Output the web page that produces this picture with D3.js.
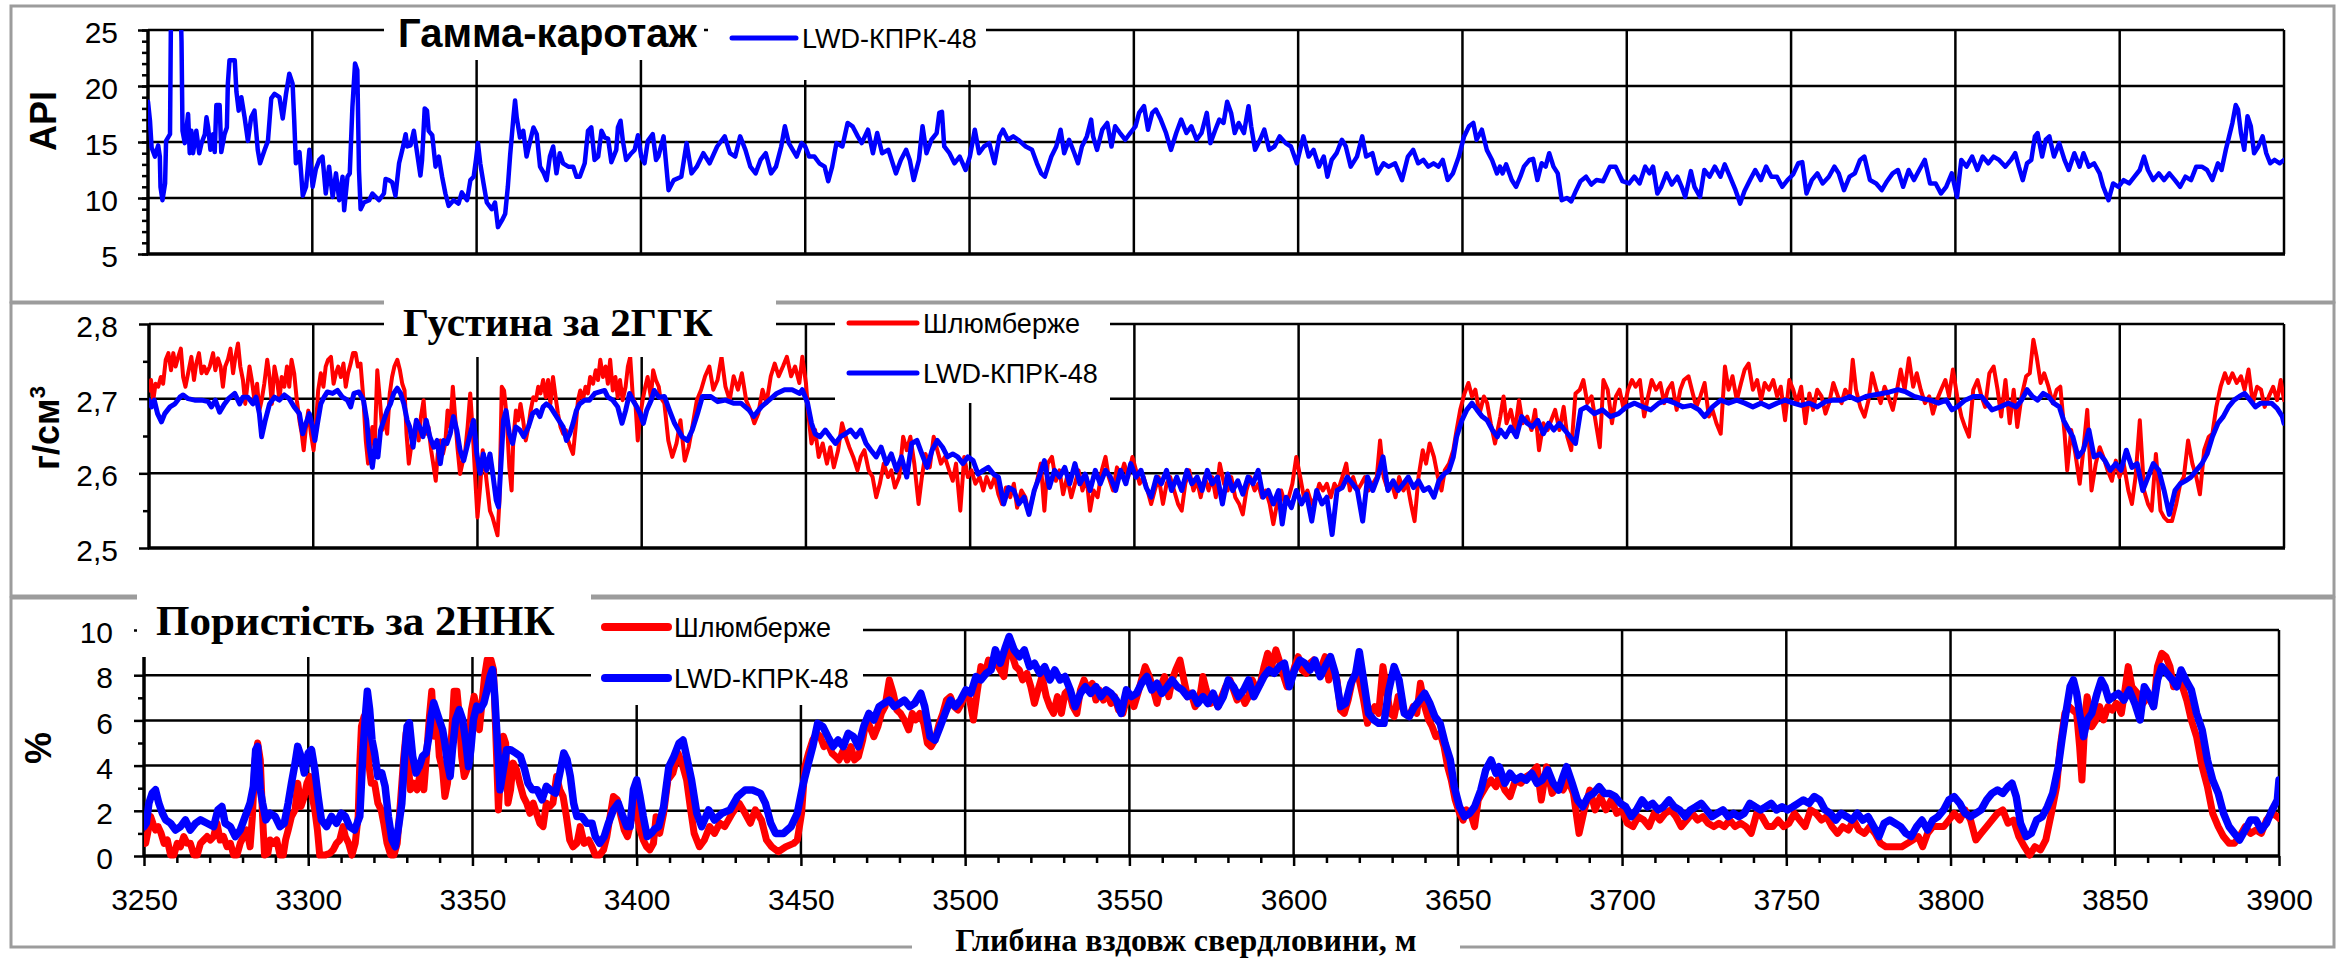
<!DOCTYPE html>
<html><head><meta charset="utf-8">
<script src="https://cdn.jsdelivr.net/npm/d3@7/dist/d3.min.js"></script>
<style>html,body{margin:0;padding:0;background:#fff}svg{display:block}</style>
</head><body>
<script>
// ---------------- DATA ----------------
const depthTicks = [3250,3300,3350,3400,3450,3500,3550,3600,3650,3700,3750,3800,3850,3900];
const gammaTicks = [5,10,15,20,25];
const densityTicks = [2.5,2.6,2.7,2.8];
const porosityTicks = [0,2,4,6,8,10];
const seriesNames = ["Шлюмберже","LWD-КПРК-48"];

// Gamma ray, API  [depth m, value]
const gammaApi = [[3250.0,18.6],[3250.6,16.9],[3251.1,14.5],[3252.1,13.7],[3253.1,14.7],[3253.6,13.7],[3253.8,11.0],[3254.4,9.8],[3255.2,11.3],[3255.5,15.1],[3256.7,15.7],[3257.0,27],[3257.3,32],[3259.5,32],[3259.7,30],[3260.2,24],[3260.5,16],[3261.2,14.9],[3262.2,17.5],[3262.7,14.0],[3263.2,16.0],[3263.7,14.0],[3264.7,16.0],[3265.6,14.0],[3266.3,14.9],[3267.3,15.7],[3267.8,17.2],[3268.3,16.3],[3269.0,14.3],[3269.8,15.7],[3270.3,14.1],[3270.8,18.3],[3271.8,18.3],[3272.3,14.1],[3273.3,15.7],[3274.0,16.3],[3274.3,20.2],[3274.8,22.3],[3276.4,22.3],[3276.9,19.5],[3277.6,17.8],[3278.4,19.0],[3279.4,17.2],[3280.4,15.1],[3281.4,17.2],[3282.4,17.8],[3283.4,14.3],[3284.1,13.1],[3285.5,14.3],[3286.5,15.1],[3287.5,18.9],[3288.5,19.3],[3290.0,19.0],[3291.0,17.1],[3292.0,19.3],[3293.0,21.1],[3294.0,20.2],[3294.5,16.9],[3295.0,13.1],[3296.1,14.1],[3296.6,12.2],[3297.1,10.2],[3298.1,11.0],[3299.1,14.3],[3300.1,11.0],[3301.1,12.6],[3302.1,13.4],[3303.1,13.7],[3304.1,10.4],[3305.1,12.8],[3306.2,10.1],[3307.2,12.2],[3308.2,9.8],[3309.2,11.9],[3309.7,8.9],[3310.7,11.9],[3311.4,12.2],[3312.2,18.1],[3313.0,22.0],[3313.7,21.4],[3314.2,12.5],[3314.7,9.0],[3315.7,9.6],[3317.3,9.8],[3318.3,10.4],[3320.3,9.8],[3321.8,10.4],[3322.3,11.7],[3323.3,11.6],[3324.3,11.4],[3325.3,10.2],[3326.4,13.1],[3327.4,14.3],[3328.4,15.7],[3328.9,14.6],[3329.9,14.7],[3330.9,16.0],[3331.9,14.0],[3332.9,12.0],[3333.4,13.4],[3334.2,18.0],[3334.9,17.8],[3335.4,16.0],[3336.5,15.6],[3337.5,12.8],[3338.5,13.7],[3339.5,11.9],[3340.5,10.4],[3341.5,9.3],[3343.0,9.8],[3344.5,9.5],[3345.5,10.5],[3347.1,9.8],[3348.1,11.6],[3349.1,11.9],[3349.8,13.4],[3350.4,14.9],[3351.1,13.1],[3352.1,11.3],[3353.1,9.6],[3354.6,9.0],[3355.6,9.6],[3356.5,7.4],[3357.7,8.0],[3358.7,8.6],[3359.5,11.0],[3360.2,13.8],[3361.2,17.2],[3361.7,18.7],[3362.2,17.2],[3363.2,15.4],[3364.2,16.0],[3365.2,13.7],[3366.3,15.1],[3367.3,16.3],[3368.3,15.7],[3369.3,12.8],[3370.3,12.3],[3371.3,11.6],[3372.3,13.7],[3373.3,14.6],[3374.3,12.2],[3375.3,14.0],[3376.3,13.1],[3377.9,12.8],[3379.4,12.8],[3380.4,11.9],[3381.4,11.9],[3382.9,13.1],[3383.9,16.0],[3384.9,16.3],[3385.9,13.4],[3387.0,13.7],[3388.0,16.0],[3389.0,15.4],[3390.0,15.3],[3391.0,13.2],[3392.5,14.3],[3393.0,16.3],[3393.8,16.9],[3394.5,15.1],[3395.5,13.4],[3397.1,14.0],[3398.1,14.3],[3399.1,15.6],[3400.1,13.7],[3401.1,13.1],[3402.1,15.1],[3403.6,15.7],[3404.6,13.4],[3405.3,13.7],[3406.9,15.5],[3408.4,10.7],[3410.0,11.6],[3412.3,11.9],[3413.9,14.9],[3415.4,12.2],[3417.0,12.8],[3419.0,14.0],[3420.9,13.1],[3423.2,14.6],[3425.5,15.5],[3427.1,14.0],[3428.7,13.7],[3430.2,15.5],[3431.8,14.3],[3433.3,12.8],[3434.9,12.2],[3436.4,13.4],[3438.0,14.0],[3439.6,12.2],[3441.1,12.8],[3442.7,14.6],[3443.8,16.4],[3445.0,14.9],[3447.4,13.7],[3448.9,14.9],[3450.0,14.6],[3451.2,13.7],[3452.8,13.7],[3454.3,13.1],[3455.9,12.8],[3457.0,11.5],[3458.2,12.8],[3459.5,14.9],[3461.3,14.6],[3462.9,16.7],[3464.4,16.4],[3466.0,15.5],[3467.2,14.9],[3469.1,16.1],[3470.6,14.0],[3471.9,15.8],[3473.4,14.0],[3475.3,14.3],[3477.6,12.2],[3479.1,13.4],[3480.7,14.3],[3481.8,13.4],[3483.0,11.6],[3484.6,13.4],[3485.7,16.4],[3486.9,14.0],[3488.4,15.2],[3490.0,15.8],[3490.8,17.6],[3491.6,17.7],[3492.3,14.6],[3493.9,14.0],[3495.4,13.1],[3497.0,13.7],[3498.8,12.5],[3500.1,13.7],[3501.6,16.1],[3502.9,14.0],[3504.4,14.6],[3506.0,14.9],[3507.6,13.1],[3509.1,15.5],[3510.2,16.1],[3511.7,15.2],[3513.3,15.5],[3514.8,15.2],[3517.1,14.6],[3519.0,14.3],[3520.5,13.1],[3521.8,12.2],[3522.9,11.9],[3524.9,13.7],[3526.4,14.6],[3527.7,16.1],[3528.8,14.0],[3530.3,15.2],[3531.9,14.0],[3533.0,13.1],[3534.2,14.6],[3535.7,15.5],[3537.0,17.0],[3537.6,15.5],[3538.8,14.3],[3540.4,16.1],[3541.9,16.7],[3543.2,14.6],[3544.3,16.4],[3545.8,15.8],[3547.4,15.2],[3548.9,15.8],[3550.5,16.4],[3551.6,17.6],[3553.1,18.2],[3554.3,16.1],[3555.6,17.6],[3556.7,17.9],[3558.2,17.0],[3559.8,15.8],[3561.3,14.3],[3562.9,15.8],[3564.4,17.0],[3566.0,15.8],[3567.5,16.4],[3569.1,15.2],[3570.6,15.8],[3572.2,17.6],[3573.3,14.9],[3574.8,16.1],[3576.0,17.0],[3577.3,16.7],[3578.4,18.6],[3579.6,17.6],[3580.7,15.8],[3581.9,16.7],[3583.5,15.8],[3584.9,18.2],[3585.7,16.4],[3586.9,14.3],[3588.4,15.2],[3589.7,16.1],[3591.2,14.3],[3592.8,14.6],[3594.4,15.5],[3596.2,14.9],[3597.8,14.6],[3599.6,13.1],[3601.6,15.5],[3603.2,13.7],[3604.7,14.3],[3606.3,12.8],[3607.8,13.7],[3608.9,11.9],[3610.2,13.4],[3611.7,14.0],[3613.3,15.2],[3614.5,14.6],[3616.0,12.8],[3617.9,13.7],[3619.5,15.5],[3620.7,13.7],[3622.6,14.0],[3624.1,12.2],[3626.0,13.1],[3627.5,12.8],[3629.5,13.1],[3631.6,11.6],[3633.4,13.7],[3635.0,14.3],[3636.5,13.1],[3638.1,13.4],[3639.6,12.8],[3641.2,13.1],[3642.7,12.8],[3644.0,13.4],[3645.5,11.6],[3647.1,12.2],[3648.9,13.7],[3650.5,15.5],[3652.0,16.4],[3653.3,16.7],[3654.3,15.2],[3655.9,16.1],[3657.4,14.3],[3659.0,13.4],[3660.5,12.2],[3661.4,12.8],[3662.2,12.2],[3663.3,13.0],[3665.0,11.6],[3666.3,11.0],[3667.6,11.9],[3668.7,12.8],[3670.4,13.4],[3671.5,13.5],[3672.8,11.6],[3674.1,13.1],[3675.3,12.8],[3676.4,14.0],[3677.7,12.8],[3679.0,12.2],[3680.2,9.8],[3681.8,10.0],[3683.1,9.7],[3684.6,10.7],[3685.9,11.5],[3687.6,11.9],[3689.2,11.2],[3690.8,11.6],[3692.8,11.5],[3694.9,12.8],[3696.6,12.8],[3698.7,11.5],[3700.7,11.3],[3702.3,11.9],[3703.9,11.3],[3705.6,12.8],[3706.9,12.2],[3708.0,12.8],[3709.3,10.4],[3710.5,11.0],[3712.1,12.2],[3713.7,11.2],[3715.4,11.9],[3716.7,11.0],[3717.8,10.1],[3719.5,12.4],[3720.6,11.0],[3722.3,10.1],[3723.6,12.5],[3725.2,11.9],[3726.8,12.8],[3728.5,11.9],[3729.8,13.0],[3731.4,11.9],[3733.1,10.7],[3734.5,9.5],[3735.8,10.6],[3737.5,11.6],[3739.1,12.5],[3740.8,11.6],[3742.4,12.8],[3744.0,11.9],[3745.7,11.9],[3747.3,11.0],[3748.9,11.6],[3750.6,12.1],[3752.2,13.1],[3753.4,13.2],[3754.7,10.4],[3756.3,11.6],[3758.0,12.2],[3759.6,11.3],[3761.5,11.9],[3763.2,12.8],[3764.5,12.2],[3766.1,10.7],[3767.8,11.9],[3769.4,12.2],[3771.0,13.4],[3772.3,13.7],[3774.0,11.6],[3775.9,11.3],[3777.6,10.7],[3779.2,11.5],[3780.9,12.2],[3782.5,12.5],[3784.1,11.0],[3785.8,12.5],[3787.4,11.6],[3789.0,12.5],[3790.7,13.4],[3792.3,11.3],[3794.0,11.3],[3795.6,10.4],[3797.2,11.0],[3798.9,12.2],[3800.5,10.1],[3801.8,13.4],[3803.4,12.8],[3805.1,13.7],[3806.7,12.5],[3808.3,13.7],[3810.0,13.1],[3811.6,13.7],[3813.3,13.4],[3815.2,12.8],[3816.9,13.4],[3818.2,14.0],[3819.3,12.8],[3820.5,11.6],[3821.8,13.1],[3823.1,13.4],[3824.2,15.5],[3825.0,15.8],[3826.4,13.7],[3827.5,15.2],[3828.6,15.5],[3830.0,13.7],[3831.6,14.9],[3833.2,13.4],[3834.5,12.5],[3836.2,14.0],[3837.8,12.8],[3839.0,14.0],[3840.6,12.8],[3842.2,13.1],[3843.9,12.2],[3845.0,11.0],[3846.6,9.8],[3848.0,11.3],[3849.6,11.0],[3851.2,11.6],[3852.9,11.3],[3854.5,11.9],[3856.1,12.5],[3857.4,13.7],[3858.6,12.5],[3860.2,11.6],[3861.9,12.2],[3863.5,11.6],[3865.1,12.2],[3866.8,11.6],[3868.4,11.0],[3870.0,11.9],[3871.7,11.6],[3873.3,12.8],[3875.0,12.8],[3876.6,12.5],[3878.2,11.6],[3879.9,13.1],[3881.0,12.5],[3882.3,14.3],[3883.3,15.5],[3884.3,16.7],[3885.3,18.3],[3886.0,17.9],[3886.9,15.8],[3887.9,14.3],[3888.9,17.3],[3889.9,16.4],[3890.9,14.0],[3892.2,14.6],[3893.5,15.5],[3894.6,14.0],[3895.8,13.1],[3897.1,13.4],[3898.7,13.1],[3900.0,13.4]];

// Density 2GGK, g/cm3 — Schlumberger
const densitySlb = [[3250.0,2.711],[3250.6,2.725],[3251.3,2.698],[3252.0,2.720],[3252.8,2.716],[3253.6,2.729],[3254.3,2.720],[3255.1,2.752],[3255.9,2.761],[3256.7,2.738],[3257.4,2.761],[3258.1,2.743],[3258.9,2.756],[3259.7,2.767],[3260.4,2.729],[3261.1,2.716],[3261.9,2.734],[3262.9,2.756],[3263.7,2.725],[3264.4,2.747],[3265.2,2.761],[3266.0,2.734],[3266.8,2.743],[3267.5,2.734],[3268.5,2.743],[3269.5,2.761],[3270.2,2.738],[3271.0,2.754],[3271.8,2.743],[3272.5,2.716],[3273.2,2.743],[3274.0,2.752],[3274.8,2.767],[3275.6,2.734],[3276.3,2.756],[3277.1,2.774],[3277.8,2.743],[3278.6,2.725],[3279.3,2.693],[3279.9,2.716],[3280.6,2.743],[3281.3,2.725],[3282.1,2.698],[3282.9,2.720],[3283.6,2.684],[3284.3,2.698],[3285.1,2.720],[3286.0,2.752],[3286.7,2.729],[3287.4,2.693],[3288.2,2.743],[3289.0,2.725],[3289.7,2.698],[3290.4,2.729],[3291.2,2.716],[3292.0,2.743],[3292.7,2.716],[3293.4,2.752],[3294.2,2.734],[3295.0,2.698],[3295.8,2.671],[3296.5,2.653],[3297.1,2.631],[3297.8,2.662],[3298.5,2.684],[3299.3,2.653],[3300.1,2.631],[3300.8,2.662],[3301.5,2.711],[3302.3,2.734],[3303.1,2.716],[3303.8,2.743],[3304.5,2.752],[3305.4,2.756],[3306.2,2.720],[3306.9,2.734],[3307.6,2.743],[3308.4,2.729],[3309.2,2.747],[3309.9,2.716],[3310.6,2.734],[3311.4,2.747],[3312.1,2.761],[3312.9,2.761],[3313.6,2.743],[3314.4,2.747],[3315.3,2.698],[3316.0,2.644],[3316.7,2.613],[3317.3,2.635],[3318.0,2.662],[3318.7,2.635],[3319.5,2.738],[3320.3,2.698],[3321.0,2.658],[3321.7,2.676],[3322.5,2.653],[3323.3,2.707],[3324.0,2.729],[3324.7,2.743],[3325.6,2.752],[3326.4,2.738],[3327.1,2.720],[3327.8,2.711],[3328.4,2.653],[3329.1,2.613],[3329.8,2.635],[3330.6,2.653],[3331.4,2.671],[3332.1,2.644],[3332.8,2.676],[3333.6,2.698],[3334.4,2.653],[3335.1,2.662],[3335.9,2.631],[3336.7,2.608],[3337.3,2.590],[3337.9,2.626],[3338.7,2.644],[3339.5,2.626],[3340.2,2.640],[3340.9,2.684],[3341.7,2.662],[3342.5,2.716],[3343.2,2.676],[3343.9,2.635],[3344.7,2.599],[3345.6,2.617],[3346.3,2.631],[3347.0,2.662],[3347.8,2.707],[3348.6,2.653],[3349.3,2.595],[3350.0,2.541],[3350.8,2.581],[3351.6,2.631],[3352.3,2.608],[3353.0,2.581],[3353.8,2.550],[3354.6,2.541],[3355.4,2.528],[3356.1,2.517],[3356.7,2.564],[3357.4,2.716],[3358.1,2.711],[3358.9,2.676],[3359.7,2.608],[3360.4,2.577],[3360.9,2.644],[3361.7,2.684],[3362.4,2.671],[3363.1,2.693],[3363.9,2.671],[3364.7,2.644],[3365.5,2.662],[3366.2,2.684],[3367.0,2.702],[3367.8,2.698],[3368.5,2.716],[3369.2,2.707],[3370.0,2.725],[3370.8,2.702],[3371.5,2.725],[3372.2,2.693],[3373.0,2.729],[3373.8,2.702],[3374.5,2.680],[3375.3,2.662],[3376.1,2.653],[3376.9,2.658],[3377.6,2.644],[3378.3,2.635],[3379.1,2.626],[3379.9,2.662],[3380.6,2.698],[3381.3,2.711],[3382.1,2.698],[3382.9,2.716],[3383.6,2.707],[3384.3,2.729],[3385.2,2.720],[3386.0,2.738],[3386.7,2.725],[3387.4,2.752],[3388.2,2.729],[3389.0,2.743],[3389.7,2.720],[3390.4,2.752],[3391.2,2.711],[3392.0,2.729],[3392.7,2.702],[3393.4,2.725],[3394.2,2.698],[3395.1,2.716],[3395.8,2.743],[3396.5,2.756],[3397.3,2.702],[3398.1,2.693],[3398.8,2.644],[3399.5,2.676],[3400.3,2.698],[3401.1,2.716],[3401.8,2.729],[3402.8,2.702],[3403.5,2.738],[3404.3,2.725],[3405.2,2.716],[3405.6,2.703],[3406.9,2.694],[3408.1,2.644],[3409.3,2.622],[3410.6,2.640],[3411.8,2.671],[3413.1,2.617],[3414.3,2.635],[3415.6,2.667],[3416.8,2.698],[3418.1,2.712],[3419.3,2.730],[3420.6,2.743],[3421.8,2.712],[3423.1,2.725],[3424.3,2.756],[3425.5,2.716],[3426.8,2.698],[3428.0,2.730],[3429.3,2.712],[3430.5,2.734],[3431.8,2.698],[3433.0,2.685],[3434.3,2.667],[3435.5,2.680],[3436.8,2.712],[3438.0,2.694],[3439.3,2.730],[3440.5,2.747],[3441.7,2.730],[3443.0,2.743],[3444.2,2.756],[3445.5,2.730],[3446.7,2.743],[3448.0,2.721],[3448.9,2.756],[3450.0,2.721],[3450.8,2.676],[3451.7,2.640],[3452.8,2.658],[3453.9,2.622],[3455.1,2.640],[3456.4,2.613],[3457.4,2.635],[3458.5,2.608],[3459.8,2.631],[3461.0,2.667],[3462.1,2.649],[3463.2,2.635],[3464.4,2.622],[3465.7,2.604],[3466.7,2.622],[3467.8,2.631],[3469.1,2.604],[3470.3,2.595],[3471.4,2.568],[3472.5,2.586],[3473.7,2.613],[3475.0,2.595],[3476.0,2.604],[3477.1,2.581],[3478.4,2.595],[3479.6,2.649],[3480.7,2.631],[3481.8,2.649],[3483.0,2.613],[3484.3,2.559],[3485.3,2.595],[3486.4,2.626],[3487.7,2.608],[3488.9,2.649],[3490.0,2.631],[3491.1,2.613],[3492.3,2.622],[3493.6,2.604],[3494.7,2.590],[3495.7,2.613],[3497.0,2.550],[3498.2,2.622],[3499.3,2.595],[3500.4,2.604],[3501.6,2.586],[3502.9,2.595],[3504.0,2.577],[3505.0,2.595],[3506.3,2.581],[3507.5,2.595],[3508.6,2.572],[3509.7,2.559],[3510.9,2.581],[3512.2,2.568],[3513.3,2.586],[3514.3,2.554],[3515.6,2.577],[3516.8,2.568],[3517.9,2.545],[3519.0,2.568],[3520.2,2.586],[3521.5,2.613],[3522.6,2.550],[3523.6,2.613],[3524.9,2.622],[3526.1,2.590],[3527.2,2.604],[3528.3,2.572],[3529.5,2.595],[3530.8,2.568],[3531.9,2.586],[3533.0,2.604],[3534.2,2.577],[3535.4,2.595],[3536.5,2.550],[3537.6,2.577],[3538.8,2.568],[3540.1,2.604],[3541.2,2.622],[3542.2,2.595],[3543.5,2.577],[3544.7,2.608],[3545.8,2.595],[3546.9,2.613],[3548.1,2.595],[3549.4,2.622],[3550.5,2.604],[3551.6,2.586],[3552.8,2.595],[3554.0,2.577],[3555.1,2.559],[3556.2,2.577],[3557.4,2.595],[3558.7,2.559],[3559.8,2.586],[3560.9,2.595],[3562.1,2.577],[3563.3,2.559],[3564.4,2.550],[3565.5,2.586],[3566.7,2.604],[3568.0,2.577],[3569.1,2.590],[3570.2,2.568],[3571.4,2.595],[3572.6,2.577],[3573.7,2.595],[3574.8,2.568],[3576.0,2.613],[3577.3,2.586],[3578.4,2.577],[3579.5,2.595],[3580.7,2.568],[3581.9,2.559],[3583.0,2.545],[3584.1,2.577],[3585.3,2.595],[3586.6,2.577],[3587.7,2.586],[3588.8,2.568],[3590.0,2.577],[3591.2,2.559],[3592.3,2.532],[3593.4,2.559],[3594.7,2.577],[3595.9,2.559],[3597.0,2.568],[3598.1,2.586],[3599.3,2.622],[3600.5,2.595],[3601.6,2.568],[3602.7,2.577],[3604.0,2.559],[3605.2,2.568],[3606.3,2.586],[3607.4,2.577],[3608.6,2.586],[3609.8,2.568],[3610.9,2.586],[3612.0,2.577],[3613.3,2.595],[3614.5,2.613],[3615.6,2.577],[3616.6,2.595],[3617.9,2.577],[3619.1,2.586],[3620.2,2.595],[3621.3,2.577],[3622.6,2.586],[3623.8,2.595],[3624.8,2.644],[3625.9,2.595],[3627.2,2.577],[3628.4,2.586],[3629.5,2.568],[3630.6,2.595],[3631.9,2.577],[3633.1,2.586],[3634.2,2.559],[3635.3,2.536],[3636.5,2.595],[3637.8,2.631],[3638.8,2.613],[3639.9,2.640],[3641.2,2.622],[3642.4,2.595],[3643.5,2.577],[3644.5,2.604],[3645.8,2.613],[3647.1,2.631],[3648.1,2.658],[3649.2,2.685],[3650.5,2.707],[3651.7,2.721],[3652.8,2.703],[3653.8,2.712],[3655.1,2.680],[3656.4,2.703],[3657.4,2.694],[3658.5,2.667],[3659.8,2.640],[3661.4,2.676],[3662.4,2.703],[3663.3,2.667],[3664.6,2.685],[3665.9,2.658],[3667.1,2.698],[3668.2,2.667],[3669.6,2.676],[3670.9,2.658],[3672.0,2.685],[3673.2,2.631],[3674.5,2.667],[3675.8,2.658],[3676.9,2.671],[3678.1,2.685],[3679.4,2.658],[3680.7,2.689],[3681.8,2.649],[3683.0,2.631],[3684.3,2.707],[3685.6,2.712],[3686.7,2.725],[3687.9,2.694],[3689.2,2.703],[3690.5,2.667],[3691.7,2.635],[3692.8,2.725],[3694.1,2.712],[3695.4,2.667],[3696.6,2.703],[3697.7,2.712],[3699.0,2.685],[3700.3,2.712],[3701.5,2.725],[3702.6,2.716],[3703.9,2.725],[3705.2,2.676],[3706.4,2.703],[3707.5,2.725],[3708.8,2.712],[3710.1,2.721],[3711.3,2.694],[3712.4,2.712],[3713.7,2.721],[3715.1,2.685],[3716.2,2.712],[3717.3,2.725],[3718.7,2.730],[3720.0,2.707],[3721.1,2.689],[3722.3,2.703],[3723.6,2.721],[3724.9,2.676],[3726.0,2.685],[3727.2,2.667],[3728.5,2.653],[3729.8,2.743],[3730.9,2.712],[3732.1,2.730],[3733.4,2.698],[3734.7,2.721],[3735.8,2.739],[3737.0,2.747],[3738.3,2.712],[3739.6,2.725],[3740.8,2.698],[3741.9,2.721],[3743.2,2.712],[3744.5,2.725],[3745.7,2.703],[3746.8,2.716],[3748.1,2.671],[3749.4,2.725],[3750.6,2.712],[3751.7,2.694],[3753.0,2.716],[3754.3,2.667],[3755.5,2.707],[3756.6,2.685],[3757.9,2.712],[3759.2,2.703],[3760.4,2.680],[3761.5,2.694],[3762.8,2.721],[3764.2,2.703],[3765.3,2.694],[3766.4,2.712],[3767.8,2.703],[3768.7,2.752],[3769.7,2.712],[3771.0,2.689],[3772.3,2.676],[3773.5,2.698],[3774.6,2.734],[3775.9,2.712],[3777.2,2.694],[3778.4,2.716],[3779.5,2.703],[3780.9,2.685],[3782.2,2.712],[3783.3,2.739],[3784.5,2.712],[3785.8,2.754],[3787.1,2.716],[3788.2,2.734],[3789.4,2.712],[3790.7,2.694],[3792.0,2.703],[3793.1,2.680],[3794.3,2.698],[3795.6,2.712],[3796.9,2.725],[3798.0,2.703],[3799.2,2.739],[3800.5,2.703],[3801.8,2.676],[3802.9,2.662],[3804.1,2.649],[3805.4,2.712],[3806.7,2.725],[3807.9,2.703],[3809.0,2.689],[3810.3,2.734],[3811.6,2.743],[3812.8,2.712],[3813.9,2.676],[3815.2,2.725],[3816.5,2.667],[3817.7,2.712],[3818.8,2.662],[3820.1,2.703],[3821.5,2.730],[3822.6,2.734],[3823.7,2.779],[3824.7,2.756],[3825.9,2.721],[3827.0,2.734],[3828.3,2.716],[3829.6,2.694],[3830.8,2.712],[3831.9,2.716],[3833.2,2.653],[3834.0,2.604],[3835.2,2.658],[3836.5,2.626],[3837.8,2.586],[3839.0,2.635],[3840.1,2.685],[3841.4,2.577],[3842.7,2.613],[3843.9,2.635],[3845.0,2.622],[3846.3,2.604],[3847.6,2.590],[3848.8,2.617],[3849.9,2.595],[3851.2,2.613],[3852.6,2.577],[3853.7,2.559],[3854.8,2.595],[3856.1,2.671],[3857.4,2.577],[3858.6,2.559],[3859.7,2.550],[3861.0,2.626],[3862.4,2.550],[3863.5,2.541],[3864.6,2.536],[3865.9,2.536],[3867.2,2.559],[3868.4,2.586],[3869.5,2.595],[3870.8,2.644],[3872.1,2.613],[3873.3,2.595],[3874.4,2.572],[3875.7,2.631],[3877.1,2.649],[3878.2,2.653],[3879.4,2.689],[3880.7,2.716],[3882.0,2.734],[3883.1,2.721],[3884.3,2.734],[3885.6,2.721],[3886.9,2.730],[3888.0,2.712],[3889.2,2.739],[3890.5,2.694],[3891.8,2.716],[3893.0,2.712],[3894.1,2.689],[3895.4,2.703],[3896.7,2.716],[3897.9,2.698],[3899.0,2.725],[3900.0,2.698]];

// Density 2GGK — LWD-КПРК-48
const densityLwd = [[3250.0,2.698],[3250.8,2.689],[3251.6,2.698],[3252.6,2.680],[3253.8,2.669],[3254.8,2.680],[3256.4,2.689],[3257.9,2.693],[3259.4,2.702],[3260.4,2.705],[3261.9,2.700],[3263.9,2.698],[3266.0,2.698],[3268.0,2.696],[3269.0,2.689],[3270.2,2.698],[3271.5,2.682],[3273.0,2.693],[3274.2,2.700],[3276.1,2.707],[3277.6,2.693],[3278.6,2.702],[3280.1,2.702],[3281.6,2.693],[3282.6,2.702],[3283.6,2.680],[3284.3,2.649],[3285.4,2.671],[3286.7,2.693],[3288.2,2.702],[3289.7,2.698],[3291.2,2.705],[3292.7,2.700],[3294.2,2.689],[3295.8,2.680],[3296.8,2.653],[3297.8,2.667],[3298.8,2.680],[3299.8,2.662],[3300.5,2.644],[3301.3,2.667],[3302.3,2.693],[3303.3,2.702],[3304.3,2.709],[3305.9,2.707],[3307.4,2.711],[3308.9,2.702],[3310.4,2.698],[3311.4,2.689],[3312.4,2.707],[3313.9,2.709],[3315.3,2.698],[3316.3,2.671],[3317.0,2.635],[3318.0,2.608],[3319.0,2.644],[3319.7,2.622],[3320.5,2.658],[3321.5,2.671],[3322.5,2.684],[3323.5,2.693],[3324.5,2.707],[3325.6,2.714],[3326.6,2.707],[3327.6,2.693],[3328.6,2.671],[3329.4,2.662],[3330.4,2.635],[3331.4,2.671],[3332.4,2.662],[3333.4,2.649],[3334.4,2.671],[3335.5,2.649],[3336.7,2.635],[3337.7,2.644],[3338.7,2.613],[3339.7,2.644],[3340.7,2.640],[3341.7,2.653],[3342.7,2.676],[3343.7,2.658],[3344.7,2.631],[3345.8,2.617],[3346.8,2.635],[3347.8,2.653],[3348.8,2.671],[3349.8,2.626],[3350.8,2.600],[3351.8,2.626],[3352.8,2.604],[3353.8,2.626],[3354.8,2.595],[3355.7,2.564],[3356.4,2.555],[3357.1,2.608],[3357.9,2.671],[3358.7,2.684],[3359.7,2.653],[3360.7,2.640],[3361.7,2.662],[3362.9,2.658],[3364.1,2.649],[3365.5,2.662],[3366.8,2.680],[3368.0,2.684],[3369.0,2.676],[3370.0,2.689],[3371.0,2.693],[3372.2,2.689],[3373.5,2.680],[3374.8,2.671],[3376.1,2.662],[3377.1,2.644],[3378.1,2.653],[3379.1,2.667],[3380.1,2.684],[3381.1,2.693],[3382.6,2.698],[3384.1,2.698],[3385.7,2.707],[3387.2,2.709],[3388.7,2.711],[3389.7,2.702],[3391.2,2.698],[3392.7,2.689],[3394.0,2.667],[3395.1,2.684],[3396.3,2.707],[3397.3,2.698],[3398.5,2.689],[3399.5,2.680],[3400.5,2.667],[3401.5,2.684],[3402.9,2.698],[3403.8,2.711],[3405.2,2.702],[3406.9,2.703],[3408.4,2.685],[3410.0,2.667],[3412.3,2.649],[3413.9,2.644],[3415.4,2.658],[3417.0,2.680],[3418.5,2.703],[3420.9,2.703],[3423.2,2.696],[3425.5,2.698],[3427.9,2.694],[3430.2,2.694],[3432.6,2.685],[3434.1,2.676],[3436.4,2.689],[3438.8,2.698],[3441.1,2.707],[3443.5,2.712],[3445.8,2.712],[3448.1,2.707],[3448.9,2.712],[3450.5,2.694],[3451.7,2.667],[3452.8,2.653],[3454.3,2.649],[3455.9,2.658],[3457.4,2.649],[3459.0,2.640],[3460.5,2.649],[3462.1,2.653],[3463.6,2.658],[3465.2,2.649],[3466.7,2.658],[3468.3,2.640],[3469.8,2.631],[3471.4,2.622],[3472.9,2.635],[3474.5,2.613],[3476.0,2.626],[3477.6,2.604],[3479.1,2.622],[3480.7,2.595],[3482.2,2.640],[3483.8,2.644],[3485.3,2.626],[3486.9,2.608],[3488.4,2.631],[3490.0,2.644],[3491.6,2.635],[3493.1,2.622],[3494.7,2.626],[3496.2,2.622],[3497.8,2.613],[3499.3,2.622],[3500.9,2.617],[3502.4,2.599],[3504.0,2.604],[3505.5,2.608],[3507.1,2.599],[3508.6,2.595],[3510.2,2.559],[3511.7,2.581],[3513.3,2.577],[3514.8,2.559],[3516.4,2.568],[3517.9,2.545],[3519.5,2.577],[3521.0,2.595],[3522.6,2.617],[3524.1,2.581],[3525.7,2.604],[3527.2,2.595],[3528.8,2.608],[3530.3,2.586],[3531.9,2.613],[3533.4,2.586],[3535.0,2.599],[3536.5,2.577],[3538.1,2.604],[3539.6,2.586],[3541.2,2.604],[3542.7,2.595],[3544.3,2.577],[3545.8,2.604],[3547.4,2.586],[3548.9,2.613],[3550.5,2.595],[3552.0,2.604],[3553.6,2.581],[3555.1,2.568],[3556.7,2.595],[3558.2,2.586],[3559.8,2.604],[3561.3,2.577],[3562.9,2.595],[3564.4,2.577],[3566.0,2.604],[3567.5,2.586],[3569.1,2.595],[3570.6,2.577],[3572.2,2.604],[3573.7,2.586],[3575.3,2.595],[3576.8,2.559],[3578.4,2.599],[3579.9,2.577],[3581.5,2.590],[3583.0,2.572],[3584.6,2.595],[3586.1,2.586],[3587.7,2.604],[3589.2,2.568],[3590.8,2.577],[3592.3,2.559],[3593.9,2.577],[3595.0,2.532],[3596.2,2.568],[3597.8,2.554],[3599.3,2.577],[3600.9,2.559],[3602.4,2.572],[3604.0,2.536],[3605.5,2.577],[3607.1,2.559],[3608.6,2.568],[3610.2,2.518],[3611.7,2.577],[3613.3,2.581],[3614.8,2.595],[3616.4,2.586],[3617.9,2.577],[3619.5,2.536],[3621.0,2.595],[3622.6,2.577],[3624.1,2.595],[3625.7,2.622],[3627.2,2.577],[3628.8,2.590],[3630.3,2.577],[3631.9,2.586],[3633.4,2.595],[3635.0,2.581],[3636.5,2.590],[3638.1,2.577],[3639.6,2.581],[3641.2,2.568],[3642.7,2.590],[3644.3,2.599],[3645.8,2.604],[3647.1,2.622],[3648.1,2.649],[3649.7,2.671],[3651.2,2.685],[3652.8,2.694],[3654.3,2.685],[3655.9,2.676],[3657.4,2.671],[3659.0,2.658],[3660.5,2.649],[3661.4,2.658],[3663.0,2.649],[3664.6,2.662],[3666.3,2.649],[3667.9,2.676],[3669.6,2.667],[3671.2,2.662],[3672.8,2.671],[3674.5,2.653],[3676.1,2.667],[3677.7,2.658],[3679.4,2.667],[3681.0,2.658],[3682.7,2.649],[3684.3,2.640],[3685.9,2.685],[3687.6,2.689],[3690.0,2.680],[3692.5,2.685],[3694.9,2.676],[3697.4,2.680],[3699.8,2.689],[3702.3,2.694],[3704.7,2.689],[3707.2,2.685],[3709.7,2.694],[3712.1,2.698],[3714.6,2.694],[3717.0,2.689],[3719.5,2.691],[3721.9,2.685],[3723.6,2.676],[3726.0,2.689],[3728.5,2.698],[3730.9,2.694],[3733.4,2.698],[3735.8,2.694],[3738.3,2.689],[3740.8,2.694],[3743.2,2.689],[3745.7,2.694],[3748.1,2.698],[3750.6,2.694],[3753.0,2.691],[3755.5,2.694],[3757.9,2.689],[3760.4,2.696],[3762.8,2.698],[3765.3,2.698],[3767.8,2.703],[3770.2,2.698],[3772.7,2.703],[3775.1,2.705],[3777.6,2.707],[3780.0,2.709],[3782.5,2.712],[3784.9,2.709],[3787.4,2.703],[3789.9,2.700],[3792.3,2.698],[3794.8,2.694],[3797.2,2.698],[3798.9,2.685],[3800.5,2.689],[3802.9,2.698],[3805.4,2.703],[3807.9,2.703],[3809.5,2.694],[3811.1,2.685],[3813.6,2.689],[3816.0,2.694],[3818.5,2.689],[3820.1,2.698],[3821.8,2.712],[3823.4,2.703],[3825.0,2.698],[3826.7,2.707],[3828.3,2.703],[3829.9,2.694],[3831.6,2.689],[3832.9,2.671],[3834.0,2.662],[3835.7,2.649],[3837.3,2.622],[3838.9,2.631],[3840.6,2.658],[3842.2,2.622],[3843.9,2.626],[3845.5,2.617],[3847.1,2.604],[3848.8,2.613],[3850.4,2.604],[3852.0,2.631],[3853.7,2.608],[3855.3,2.613],[3857.0,2.577],[3858.6,2.595],[3860.2,2.613],[3861.9,2.604],[3863.5,2.577],[3865.1,2.545],[3866.8,2.577],[3868.4,2.586],[3870.0,2.590],[3871.7,2.595],[3873.3,2.604],[3875.0,2.613],[3876.6,2.626],[3878.2,2.649],[3879.9,2.667],[3881.5,2.676],[3883.1,2.689],[3884.8,2.698],[3886.4,2.703],[3888.0,2.707],[3889.7,2.698],[3891.3,2.689],[3892.9,2.694],[3894.6,2.694],[3896.2,2.694],[3897.9,2.687],[3899.5,2.676],[3900.0,2.667]];

// Porosity 2NNK, % — Schlumberger
const porositySlb = [[3250.0,0.9],[3250.5,0.56],[3251.3,1.15],[3252.0,1.75],[3252.7,1.45],[3253.5,1.15],[3254.3,1.30],[3255.2,1.01],[3256.1,0.56],[3257.1,0.71],[3258.1,0.04],[3259.1,0.04],[3260.1,0.56],[3261.1,0.41],[3262.1,0.86],[3263.1,0.56],[3264.1,0.56],[3265.2,0.04],[3266.2,0.04],[3267.2,0.56],[3268.2,0.71],[3269.2,0.86],[3270.2,0.71],[3271.2,0.86],[3272.2,1.45],[3273.2,0.71],[3274.2,0.86],[3275.3,0.41],[3276.3,0.56],[3277.3,0.04],[3278.3,0.04],[3279.3,0.56],[3280.3,0.86],[3281.3,1.15],[3282.3,0.41],[3283.0,1.75],[3283.8,4.26],[3284.6,5.00],[3285.4,4.26],[3286.1,1.75],[3286.7,0.04],[3287.7,0.12],[3288.4,0.71],[3289.4,0.56],[3290.4,0.71],[3291.4,0.04],[3292.4,0.04],[3293.1,0.71],[3293.9,1.15],[3294.9,1.75],[3296.0,2.04],[3296.8,3.22],[3297.8,2.19],[3298.8,2.63],[3299.6,3.22],[3300.5,3.52],[3301.2,2.63],[3302.0,2.04],[3302.8,1.15],[3303.5,0.04],[3305.1,0.04],[3306.6,0.12],[3307.6,0.27],[3308.6,0.56],[3309.6,0.71],[3310.6,1.30],[3311.3,0.86],[3312.3,0.56],[3313.3,0.04],[3314.3,0.56],[3315.2,1.75],[3315.7,4.11],[3316.2,5.74],[3317.0,6.18],[3317.8,6.04],[3318.4,4.11],[3319.2,3.22],[3320.2,3.22],[3321.2,2.34],[3322.2,2.04],[3323.0,1.45],[3324.0,0.56],[3325.1,0.04],[3326.1,0.04],[3327.1,0.56],[3327.9,2.04],[3328.5,3.22],[3329.1,4.41],[3329.8,5.44],[3330.3,4.41],[3331.1,2.93],[3332.1,3.22],[3333.1,2.93],[3334.1,3.67],[3335.2,2.93],[3336.0,4.41],[3336.9,6.18],[3337.6,7.29],[3338.4,5.30],[3339.2,6.04],[3339.9,4.41],[3340.9,3.82],[3341.6,2.63],[3342.4,3.22],[3343.4,4.70],[3344.4,7.29],[3345.3,7.29],[3346.0,6.18],[3346.7,4.41],[3347.5,3.52],[3348.3,3.82],[3349.0,5.30],[3349.7,6.48],[3350.5,7.07],[3351.3,6.48],[3352.1,5.59],[3352.9,6.78],[3353.7,7.96],[3354.5,8.70],[3355.6,8.70],[3356.4,8.25],[3357.2,5.00],[3357.9,2.04],[3358.6,3.82],[3359.4,5.30],[3360.1,5.00],[3360.8,2.34],[3361.6,2.93],[3362.4,4.11],[3363.4,3.82],[3364.4,3.22],[3365.5,2.63],[3366.5,2.34],[3367.5,1.89],[3368.5,2.34],[3369.5,1.89],[3370.5,1.45],[3371.5,1.30],[3372.5,2.34],[3373.5,2.19],[3374.5,2.34],[3375.6,3.52],[3376.6,2.93],[3377.6,2.63],[3378.6,1.75],[3379.6,0.71],[3380.6,0.41],[3381.8,0.56],[3382.8,1.30],[3384.0,0.56],[3385.4,0.71],[3386.4,0.41],[3387.4,0.04],[3388.7,0.04],[3389.9,0.27],[3390.9,0.86],[3391.9,1.75],[3392.9,2.63],[3394.1,2.49],[3395.2,1.75],[3396.2,1.15],[3397.2,0.86],[3398.2,1.45],[3399.2,2.63],[3399.9,2.04],[3401.0,1.15],[3402.0,0.71],[3403.0,0.41],[3404.0,0.27],[3405.1,0.56],[3405.9,1.74],[3407.0,1.00],[3408.2,1.89],[3409.5,3.36],[3411.0,3.66],[3412.6,4.54],[3413.8,4.10],[3415.2,3.36],[3416.3,2.18],[3417.5,1.00],[3419.1,0.41],[3420.6,0.71],[3422.2,1.30],[3423.7,1.00],[3425.3,1.45],[3426.8,1.30],[3429.1,1.89],[3431.2,2.33],[3433.0,1.89],[3434.6,1.45],[3436.1,2.04],[3438.0,1.59],[3439.5,0.71],[3441.1,0.41],[3443.1,0.19],[3445.4,0.41],[3447.8,0.56],[3448.9,0.71],[3450.2,1.89],[3451.2,3.95],[3452.3,4.54],[3453.6,5.13],[3454.8,5.43],[3455.9,5.28],[3457.0,4.84],[3458.2,4.99],[3459.5,4.54],[3460.6,4.40],[3461.6,4.25],[3462.9,4.69],[3464.1,4.25],[3465.2,4.84],[3466.3,4.25],[3467.5,4.40],[3468.8,5.13],[3469.9,6.02],[3471.0,5.72],[3472.2,5.28],[3473.4,5.72],[3474.5,6.31],[3475.6,6.61],[3476.9,7.79],[3478.1,7.20],[3479.2,6.46],[3480.3,6.31],[3481.5,6.02],[3482.8,5.58],[3483.9,6.31],[3484.9,6.02],[3486.2,6.31],[3487.4,5.87],[3488.5,4.99],[3489.6,4.84],[3490.8,5.13],[3492.1,5.87],[3493.2,6.31],[3494.3,6.90],[3495.5,7.05],[3496.7,6.61],[3497.8,6.46],[3498.9,6.75],[3500.2,7.20],[3501.4,6.90],[3502.5,6.02],[3503.6,7.20],[3504.8,8.38],[3506.1,8.08],[3507.1,8.67],[3508.2,8.38],[3509.5,8.53],[3510.7,8.23],[3511.8,7.94],[3512.9,9.26],[3514.1,8.97],[3515.4,8.38],[3516.5,8.23],[3517.5,7.79],[3518.8,8.08],[3520.0,7.49],[3521.1,6.75],[3522.2,7.35],[3523.4,7.94],[3524.7,7.05],[3525.8,6.61],[3526.9,6.31],[3528.1,7.05],[3529.3,6.31],[3530.4,7.20],[3531.5,7.35],[3532.8,6.61],[3534.0,6.31],[3535.1,7.35],[3536.2,7.79],[3537.4,7.35],[3538.7,7.64],[3539.8,6.90],[3540.8,7.35],[3542.1,6.90],[3543.3,7.20],[3544.4,6.75],[3545.5,7.05],[3546.7,6.46],[3548.0,6.31],[3549.1,6.90],[3550.2,7.05],[3551.4,6.61],[3552.6,7.20],[3553.7,7.79],[3554.8,8.38],[3556.1,7.94],[3557.3,7.35],[3558.4,6.75],[3559.5,7.49],[3560.7,7.94],[3562.0,7.05],[3563.0,7.79],[3564.1,8.23],[3565.4,8.67],[3566.6,7.79],[3567.7,7.05],[3568.8,7.20],[3570.0,6.61],[3571.3,6.90],[3572.4,7.94],[3573.4,7.35],[3574.7,6.75],[3575.9,6.90],[3577.0,6.61],[3578.1,7.05],[3579.3,7.49],[3580.6,7.79],[3581.7,7.35],[3582.8,6.90],[3584.0,7.20],[3585.2,6.75],[3586.3,7.05],[3587.4,7.79],[3588.7,7.35],[3589.9,7.64],[3591.0,8.38],[3592.1,8.97],[3593.3,8.38],[3594.6,9.12],[3595.6,8.67],[3596.7,8.08],[3598.0,7.49],[3599.2,7.79],[3600.3,8.38],[3601.4,8.82],[3602.6,8.23],[3603.9,8.08],[3605.0,8.53],[3606.1,8.67],[3607.3,8.23],[3608.5,8.38],[3609.6,8.82],[3610.7,7.79],[3611.9,8.38],[3613.2,7.79],[3614.3,6.46],[3615.4,6.31],[3616.6,6.90],[3617.9,7.79],[3618.9,8.08],[3620.0,7.79],[3621.3,6.90],[3622.5,5.87],[3623.6,6.31],[3624.7,6.61],[3625.9,6.31],[3627.2,8.38],[3628.3,7.35],[3629.4,6.31],[3630.6,6.17],[3631.8,7.05],[3632.9,6.61],[3634.0,6.31],[3635.2,6.17],[3636.4,6.61],[3637.5,6.31],[3638.6,7.64],[3639.9,6.61],[3641.1,6.02],[3642.2,5.72],[3643.3,5.28],[3644.6,5.43],[3645.8,4.84],[3646.9,3.95],[3648.0,3.36],[3649.2,2.48],[3650.5,1.89],[3651.6,1.59],[3652.6,2.04],[3653.9,1.89],[3655.1,1.30],[3656.2,2.48],[3657.3,2.77],[3658.5,3.07],[3660.1,3.36],[3661.6,3.07],[3662.6,3.51],[3664.3,2.92],[3665.9,2.63],[3667.5,3.36],[3669.2,3.22],[3670.8,3.51],[3672.5,3.66],[3674.1,3.95],[3675.4,2.48],[3677.0,3.95],[3678.7,2.77],[3680.3,3.07],[3682.0,2.92],[3683.6,3.36],[3685.2,2.77],[3686.9,1.00],[3688.5,2.04],[3690.2,2.92],[3691.8,2.04],[3693.4,2.63],[3695.1,2.04],[3696.7,2.48],[3698.4,1.89],[3700.0,2.04],[3701.6,1.45],[3703.3,1.30],[3704.9,1.74],[3706.6,1.59],[3708.2,1.30],[3709.8,1.89],[3711.5,1.59],[3713.1,1.89],[3714.8,2.04],[3716.4,1.74],[3718.0,1.30],[3719.7,1.59],[3721.3,1.89],[3723.0,1.59],[3724.6,1.74],[3726.2,1.45],[3727.9,1.30],[3729.5,1.45],[3731.1,1.30],[3732.8,1.59],[3734.4,1.30],[3736.1,1.45],[3737.7,1.30],[3739.3,1.00],[3741.0,1.89],[3742.6,1.74],[3744.3,1.30],[3745.9,1.30],[3747.5,1.59],[3749.2,1.30],[3750.8,1.45],[3752.5,1.89],[3754.1,1.59],[3755.7,1.30],[3757.4,2.04],[3759.0,1.89],[3760.7,1.59],[3762.3,1.74],[3763.9,1.30],[3765.6,1.00],[3767.2,1.30],[3768.9,1.15],[3770.5,1.59],[3772.1,1.15],[3773.8,1.00],[3775.4,1.30],[3777.0,1.00],[3778.7,0.56],[3780.3,0.41],[3782.0,0.41],[3783.6,0.41],[3785.2,0.41],[3786.9,0.56],[3788.5,0.71],[3790.2,0.86],[3791.5,0.41],[3793.0,1.00],[3794.6,1.30],[3796.2,1.30],[3797.9,1.30],[3799.5,1.59],[3801.1,1.89],[3802.8,1.59],[3804.4,2.04],[3806.1,1.59],[3807.7,0.71],[3809.3,1.00],[3811.0,1.30],[3812.6,1.59],[3814.3,1.89],[3815.9,2.04],[3817.5,1.45],[3819.2,1.59],[3820.8,0.86],[3822.5,0.41],[3824.1,0.04],[3825.7,0.41],[3827.4,0.27],[3829.0,0.71],[3830.7,1.89],[3832.3,3.07],[3833.4,4.84],[3834.8,6.31],[3836.1,6.61],[3837.2,6.46],[3838.4,6.31],[3839.3,4.84],[3840.0,3.36],[3841.0,6.31],[3841.6,7.05],[3843.0,5.72],[3844.3,6.02],[3845.4,6.61],[3846.6,6.02],[3847.9,6.61],[3849.2,6.46],[3850.5,6.75],[3852.0,6.31],[3853.1,7.35],[3854.1,8.38],[3855.2,7.49],[3856.9,7.20],[3858.5,6.75],[3860.2,7.05],[3861.8,6.61],[3863.0,8.38],[3864.3,8.97],[3865.6,8.82],[3866.8,8.38],[3867.9,7.49],[3869.2,7.79],[3870.6,7.49],[3871.9,6.90],[3873.3,6.02],[3874.9,5.28],[3876.6,3.95],[3878.2,3.07],[3879.8,1.89],[3881.5,1.30],[3883.1,0.86],[3884.8,0.56],[3886.4,0.56],[3888.0,0.86],[3889.7,1.30],[3891.3,1.00],[3893.0,1.15],[3894.6,1.00],[3896.2,1.59],[3897.9,1.89],[3899.5,1.74],[3900.0,1.67]];

// Porosity 2NNK — LWD-КПРК-48
const porosityLwd = [[3250.0,1.3],[3250.7,1.45],[3251.5,2.34],[3252.5,2.78],[3253.5,2.93],[3254.5,2.34],[3255.6,1.89],[3256.6,1.60],[3258.1,1.45],[3259.6,1.15],[3261.1,1.30],[3262.6,1.60],[3264.1,1.15],[3265.7,1.45],[3267.2,1.60],[3269.2,1.45],[3271.2,1.30],[3272.5,2.04],[3273.7,2.19],[3274.7,1.45],[3276.3,1.30],[3277.8,0.86],[3279.3,1.15],[3280.8,1.75],[3282.3,2.34],[3283.3,3.08],[3284.0,4.70],[3284.6,4.85],[3285.4,2.93],[3286.1,2.34],[3287.1,1.60],[3288.4,1.89],[3289.9,1.75],[3291.4,1.30],[3292.7,1.45],[3293.9,2.34],[3294.9,3.22],[3296.0,4.11],[3296.8,4.85],[3297.8,4.41],[3298.8,3.67],[3300.0,4.56],[3301.0,4.70],[3302.0,3.82],[3303.0,2.63],[3304.0,1.60],[3305.6,1.30],[3307.1,1.75],[3308.6,1.45],[3310.1,1.89],[3311.3,1.75],[3312.6,1.30],[3314.1,1.15],[3315.7,1.75],[3316.7,4.70],[3317.4,6.18],[3318.0,7.29],[3318.7,6.48],[3319.4,5.15],[3320.2,4.56],[3321.2,3.52],[3322.4,3.67],[3323.4,3.08],[3324.4,1.75],[3325.5,0.71],[3326.5,0.41],[3327.5,1.30],[3328.5,2.34],[3329.3,4.26],[3330.1,5.74],[3330.8,5.89],[3331.8,4.41],[3332.8,3.67],[3333.8,3.96],[3334.8,4.41],[3335.9,4.56],[3336.6,5.15],[3337.4,6.18],[3338.2,6.78],[3339.2,6.33],[3340.2,5.89],[3340.9,5.59],[3341.6,5.00],[3342.4,4.11],[3343.2,3.52],[3343.9,4.70],[3344.9,6.04],[3346.0,6.48],[3347.0,6.04],[3348.0,5.00],[3348.8,3.96],[3349.5,4.70],[3350.3,6.04],[3351.3,6.63],[3352.3,6.48],[3353.5,6.78],[3354.5,7.37],[3355.4,7.96],[3356.1,8.25],[3356.8,7.07],[3357.6,5.00],[3358.4,2.93],[3359.4,3.82],[3360.4,4.70],[3361.6,4.70],[3363.1,4.56],[3364.6,4.41],[3365.9,3.82],[3366.9,3.22],[3368.2,2.93],[3369.7,2.93],[3371.2,2.49],[3372.5,3.08],[3373.7,2.93],[3375.3,2.78],[3376.6,3.67],[3377.8,4.56],[3378.8,4.26],[3379.8,3.52],[3380.8,2.34],[3381.8,1.75],[3383.3,1.75],[3384.8,1.45],[3386.4,1.45],[3387.4,0.86],[3388.7,0.56],[3390.1,0.86],[3391.4,1.45],[3392.9,2.04],[3394.4,2.34],[3395.8,1.75],[3397.0,1.30],[3398.0,1.30],[3399.0,2.93],[3400.0,3.37],[3401.0,2.63],[3402.0,1.75],[3403.2,0.86],[3404.5,1.01],[3405.5,1.2],[3406.7,1.30],[3408.2,2.18],[3409.8,3.95],[3411.3,4.40],[3412.9,4.99],[3414.1,5.13],[3415.2,4.40],[3416.7,3.36],[3418.3,1.89],[3419.8,1.30],[3421.9,2.04],[3423.7,1.59],[3426.0,1.89],[3428.4,2.04],[3430.7,2.63],[3433.0,2.92],[3435.3,2.92],[3437.7,2.77],[3439.2,2.33],[3440.8,1.45],[3442.3,1.00],[3444.7,1.00],[3447.0,1.30],[3448.9,1.89],[3450.5,3.07],[3452.0,3.95],[3453.6,4.84],[3455.1,5.87],[3456.7,5.72],[3458.2,5.28],[3459.8,4.84],[3461.3,5.13],[3462.9,4.84],[3464.4,5.43],[3466.0,5.28],[3467.5,4.84],[3469.1,5.72],[3470.7,6.31],[3472.2,6.02],[3473.8,6.61],[3475.3,6.75],[3476.9,6.90],[3478.4,6.61],[3480.0,6.75],[3481.5,6.90],[3483.1,6.61],[3484.6,6.75],[3486.5,7.20],[3487.7,6.61],[3489.3,5.28],[3490.8,5.13],[3492.4,5.72],[3493.9,6.31],[3495.5,6.90],[3497.0,6.61],[3498.6,6.90],[3500.2,7.35],[3501.7,7.20],[3503.3,7.94],[3504.8,7.79],[3506.4,8.08],[3507.9,8.23],[3509.2,9.12],[3510.7,8.53],[3512.3,9.26],[3513.4,9.71],[3514.9,9.12],[3516.5,8.82],[3518.0,9.12],[3519.6,8.38],[3521.1,8.53],[3522.7,8.08],[3524.2,8.38],[3525.8,7.79],[3527.3,8.23],[3528.9,7.79],[3530.4,7.94],[3532.0,7.35],[3533.5,6.61],[3535.1,7.20],[3536.6,7.49],[3538.2,7.20],[3539.8,7.49],[3541.3,7.05],[3542.9,7.35],[3544.4,7.20],[3546.0,6.90],[3547.5,6.31],[3549.1,7.35],[3550.6,7.05],[3552.2,7.20],[3553.7,7.64],[3555.3,7.94],[3556.8,7.35],[3558.4,7.64],[3559.9,7.20],[3561.5,7.49],[3563.0,7.79],[3564.6,7.49],[3566.1,7.35],[3567.7,7.05],[3569.3,7.20],[3570.8,6.75],[3572.4,7.05],[3573.9,6.75],[3575.5,7.20],[3577.0,6.61],[3578.6,7.05],[3580.1,7.79],[3581.7,7.49],[3583.2,7.05],[3584.8,7.35],[3586.3,7.79],[3587.9,7.05],[3589.4,7.49],[3591.0,7.94],[3592.5,8.23],[3594.1,8.08],[3595.6,8.38],[3597.2,8.53],[3598.7,7.49],[3600.3,8.23],[3601.9,8.67],[3603.4,8.53],[3605.0,8.23],[3606.5,8.67],[3608.1,7.94],[3609.6,8.38],[3611.2,8.82],[3612.7,8.08],[3614.3,6.61],[3615.8,6.75],[3617.4,7.64],[3618.9,8.08],[3620.0,9.04],[3621.3,7.79],[3622.8,6.31],[3624.4,6.02],[3625.9,5.87],[3627.5,5.87],[3629.0,7.35],[3630.6,8.38],[3632.1,7.79],[3633.7,6.31],[3635.2,6.17],[3636.8,6.61],[3638.4,6.90],[3639.9,7.20],[3641.5,6.75],[3643.0,6.17],[3644.6,5.87],[3646.1,4.99],[3647.7,4.25],[3648.9,3.07],[3650.5,2.18],[3652.0,1.74],[3653.6,1.89],[3655.1,2.18],[3657.0,2.92],[3658.5,3.81],[3660.1,4.25],[3661.6,3.66],[3662.6,3.95],[3664.3,3.22],[3665.9,3.66],[3667.5,3.36],[3669.2,3.51],[3670.8,3.36],[3672.5,3.66],[3674.1,3.22],[3675.7,3.36],[3677.4,3.81],[3679.0,3.22],[3680.7,2.92],[3682.0,3.51],[3683.1,3.95],[3684.8,3.22],[3686.4,2.48],[3688.0,2.18],[3689.7,2.63],[3691.3,2.77],[3693.0,3.07],[3694.6,2.77],[3696.2,2.77],[3697.9,2.63],[3699.5,2.33],[3701.1,2.18],[3702.8,1.74],[3704.4,2.04],[3706.1,2.48],[3707.7,2.18],[3709.3,2.33],[3711.0,2.04],[3712.6,2.18],[3714.3,2.48],[3715.9,2.18],[3717.5,2.04],[3719.2,1.74],[3720.8,2.04],[3722.5,2.18],[3724.1,2.33],[3725.7,2.04],[3727.4,1.74],[3729.0,1.89],[3730.7,2.04],[3732.3,1.74],[3733.9,1.89],[3735.6,1.74],[3737.2,1.89],[3738.9,2.33],[3740.5,2.18],[3742.1,2.04],[3743.8,2.18],[3745.4,2.33],[3747.0,2.04],[3748.7,2.18],[3750.3,2.04],[3752.0,2.18],[3753.6,2.33],[3755.2,2.48],[3756.9,2.33],[3758.5,2.63],[3760.2,2.48],[3761.8,2.04],[3763.4,1.89],[3765.1,1.59],[3766.7,1.89],[3768.4,1.74],[3770.0,1.59],[3771.6,1.89],[3773.3,1.59],[3774.9,1.74],[3776.6,1.30],[3778.2,0.86],[3779.8,1.45],[3781.5,1.59],[3783.1,1.45],[3784.8,1.30],[3786.4,1.00],[3788.0,0.86],[3789.7,1.30],[3791.3,1.59],[3793.0,1.15],[3794.6,1.59],[3796.2,1.74],[3797.9,2.04],[3799.5,2.48],[3801.1,2.63],[3802.8,2.33],[3804.4,1.89],[3806.1,1.74],[3807.7,1.89],[3809.3,2.04],[3811.0,2.48],[3812.6,2.77],[3814.3,2.92],[3815.9,2.77],[3817.5,3.07],[3818.7,3.22],[3820.0,2.63],[3821.3,1.45],[3823.0,0.86],[3824.6,1.00],[3826.2,1.59],[3827.9,1.74],[3829.5,2.18],[3831.1,2.77],[3832.8,3.95],[3833.9,5.13],[3835.1,6.31],[3836.4,7.49],[3837.4,7.79],[3838.4,7.20],[3839.3,6.31],[3840.5,5.28],[3841.6,6.02],[3843.0,6.31],[3844.6,7.20],[3845.9,7.79],[3847.0,7.49],[3848.2,6.90],[3849.5,7.05],[3851.1,7.20],[3852.8,6.90],[3854.4,7.35],[3856.1,6.75],[3857.7,6.02],[3859.0,7.49],[3860.2,7.20],[3861.8,6.61],[3863.0,7.79],[3864.3,8.38],[3865.9,8.08],[3867.5,7.79],[3868.9,7.49],[3870.2,8.23],[3871.6,7.79],[3873.3,7.35],[3874.9,6.31],[3876.6,5.58],[3878.2,4.25],[3879.8,3.36],[3881.5,2.77],[3883.1,1.89],[3884.8,1.30],[3886.4,1.00],[3888.0,0.71],[3889.7,1.15],[3891.3,1.59],[3893.0,1.59],[3894.6,1.15],[3896.2,1.45],[3897.9,2.04],[3899.5,2.48],[3900.0,3.36]];

// ---------------- DRAWING ----------------
const W = 2343, H = 959;
const SANS = "'Liberation Sans', Arial, sans-serif";
const SERIF = "'Liberation Serif', 'Times New Roman', serif";
const RED = "#ff0000", BLUE = "#0000ff";
const svg = d3.select("body").append("svg").attr("width", W).attr("height", H);
svg.append("rect").attr("width", W).attr("height", H).attr("fill", "#fff");

// panel frames
[[11,6,2323,296],[11,303,2323,293],[11,598,2323,349]].forEach(f =>
  svg.append("rect").attr("x", f[0]).attr("y", f[1]).attr("width", f[2]).attr("height", f[3])
    .attr("fill", "none").attr("stroke", "#9c9c9c").attr("stroke-width", 3));

const commaFmt = v => d3.format(".1f")(v).replace(".", ",");
const depthDomain = [3250, 3900];

function panel(o) {
  const x = d3.scaleLinear().domain(depthDomain).range([o.x0, o.x1]);
  const y = d3.scaleLinear().domain(o.dom).range([o.yb, o.yt]);
  const g = svg.append("g");
  const black = s => s.attr("stroke", "#000");

  g.append("g").attr("transform", `translate(${o.x0},0)`)
    .call(d3.axisLeft(y).tickValues(o.minor).tickSize(6).tickFormat(""))
    .call(s => { s.select(".domain").remove(); s.selectAll("line").attr("stroke", "#000").attr("stroke-width", 2.5); });
  g.append("g").attr("transform", `translate(${o.x0},0)`)
    .call(d3.axisLeft(y).tickValues(o.ticks).tickSize(10).tickPadding(o.pad).tickFormat(o.fmt))
    .call(s => {
      s.select(".domain").remove();
      s.selectAll("line").attr("stroke", "#000").attr("stroke-width", 2.5);
      s.selectAll("text").attr("font-family", SANS).attr("font-size", 30).attr("fill", "#000").attr("dy", "0.42em");
    });
  g.append("g").selectAll("line").data(o.ticks.filter(t => t !== o.dom[0])).join("line")
    .attr("x1", o.x0).attr("x2", o.x1).attr("y1", d => y(d)).attr("y2", d => y(d))
    .call(black).attr("stroke-width", 2.5);
  g.append("g").selectAll("line").data(depthTicks.slice(1)).join("line")
    .attr("x1", d => x(d)).attr("x2", d => x(d)).attr("y1", o.yt).attr("y2", o.yb)
    .call(black).attr("stroke-width", 2.5);
  if (o.xLabels) {
    g.append("g").attr("transform", `translate(0,${o.yb})`)
      .call(d3.axisBottom(x).tickValues(o.xMinor).tickSize(7).tickFormat(""))
      .call(s => { s.select(".domain").remove(); s.selectAll("line").attr("stroke", "#000").attr("stroke-width", 2.5); });
    g.append("g").attr("transform", `translate(0,${o.yb})`)
      .call(d3.axisBottom(x).tickValues(depthTicks).tickSize(10).tickPadding(23).tickFormat(d3.format("d")))
      .call(s => {
        s.select(".domain").remove();
        s.selectAll("line").attr("stroke", "#000").attr("stroke-width", 2.5);
        s.selectAll("text").attr("font-family", SANS).attr("font-size", 30).attr("fill", "#000");
      });
  }
  g.append("line").attr("x1", o.x0).attr("x2", o.x0).attr("y1", o.yt).attr("y2", o.yb).call(black).attr("stroke-width", 3.5);
  g.append("line").attr("x1", o.x0 - 1).attr("x2", o.x1 + 1).attr("y1", o.yb).attr("y2", o.yb).call(black).attr("stroke-width", 3.5);

  const cid = "clip" + o.id;
  svg.append("clipPath").attr("id", cid).append("rect")
    .attr("x", o.x0).attr("y", o.yt).attr("width", o.x1 - o.x0).attr("height", o.yb - o.yt + 3);
  const line = d3.line().x(d => x(d[0])).y(d => y(d[1]));
  o.series.forEach(s => {
    svg.append("path").attr("clip-path", `url(#${cid})`).datum(s.data).attr("d", line)
      .attr("fill", "none").attr("stroke", s.color).attr("stroke-width", s.w)
      .attr("stroke-linejoin", "round").attr("stroke-linecap", "round");
  });
}

panel({ id: "g", x0: 148, x1: 2284, yt: 30, yb: 254, dom: [5, 25], ticks: gammaTicks,
  minor: d3.range(5, 25.01, 1), pad: 20, fmt: d3.format("d"),
  series: [{ data: gammaApi, color: BLUE, w: 4.5 }] });
panel({ id: "d", x0: 149, x1: 2284, yt: 324, yb: 548, dom: [2.5, 2.8], ticks: densityTicks,
  minor: [2.55, 2.65, 2.75], pad: 21, fmt: commaFmt,
  series: [{ data: densitySlb, color: RED, w: 4 }, { data: densityLwd, color: BLUE, w: 5 }] });
panel({ id: "p", x0: 144, x1: 2279, yt: 630, yb: 856, dom: [0, 10], ticks: porosityTicks,
  minor: [1, 3, 5, 7, 9], pad: 21, fmt: d3.format("d"), xLabels: true,
  xMinor: d3.range(3260, 3900, 10).filter(v => v % 50 !== 0),
  series: [{ data: porositySlb, color: RED, w: 7 }, { data: porosityLwd, color: BLUE, w: 7.5 }] });

// white title / legend boxes (drawn over the plot like the chart titles)
[[384,9,320,51],[708,9,278,71],[384,292,392,65],[835,307,275,96],[137,590,454,67],[591,602,272,103],[912,926,548,33]]
  .forEach(b => svg.append("rect").attr("x", b[0]).attr("y", b[1]).attr("width", b[2]).attr("height", b[3]).attr("fill", "#fff"));

// titles
svg.append("text").attr("x", 398).attr("y", 47).attr("font-family", SANS).attr("font-weight", "bold")
  .attr("font-size", 40).text("Гамма-каротаж");
svg.append("text").attr("x", 403).attr("y", 336).attr("font-family", SERIF).attr("font-weight", "bold")
  .attr("font-size", 41).text("Густина за 2ГГК");
svg.append("text").attr("x", 156).attr("y", 635).attr("font-family", SERIF).attr("font-weight", "bold")
  .attr("font-size", 43).text("Пористість за 2ННК");
svg.append("text").attr("x", 1186).attr("y", 951).attr("text-anchor", "middle").attr("font-family", SERIF)
  .attr("font-weight", "bold").attr("font-size", 32).text("Глибина вздовж свердловини, м");

// y axis titles
function yTitle(x, y, txt, sup) {
  const t = svg.append("text").attr("transform", `translate(${x},${y}) rotate(-90)`).attr("text-anchor", "middle")
    .attr("font-family", SANS).attr("font-weight", "bold").attr("font-size", 36).text(txt);
  if (sup) t.append("tspan").attr("font-size", 22).attr("dy", -14).text(sup);
}
yTitle(56, 121, "API");
yTitle(59, 428, "г/см", "3");
yTitle(51, 748, "%");

// legends
function legendItem(x1, x2, y, color, w, label, fs) {
  svg.append("line").attr("x1", x1).attr("x2", x2).attr("y1", y).attr("y2", y)
    .attr("stroke", color).attr("stroke-width", w).attr("stroke-linecap", "round");
  svg.append("text").attr("x", x2 + 6).attr("y", y + 10).attr("font-family", SANS).attr("font-size", fs).text(label);
}
legendItem(732, 796, 38, BLUE, 5, seriesNames[1], 27);
legendItem(849, 917, 323, RED, 5, seriesNames[0], 27);
legendItem(849, 917, 373, BLUE, 5, seriesNames[1], 27);
legendItem(605, 668, 627, RED, 8, seriesNames[0], 27);
legendItem(605, 668, 678, BLUE, 8, seriesNames[1], 27);
</script>
</body></html>
